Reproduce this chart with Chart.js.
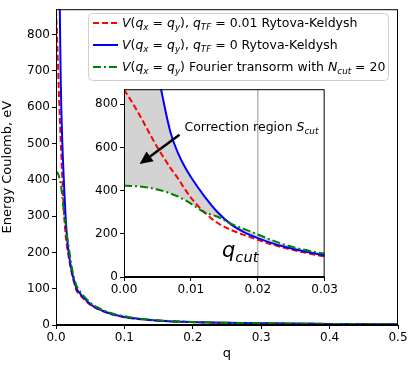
<!DOCTYPE html>
<html>
<head>
<meta charset="utf-8">
<script src="https://cdn.jsdelivr.net/npm/chart.js@4.4.0/dist/chart.umd.min.js"></script>
<style>
  body { margin: 0; background: #fff; }
  #wrap { position: relative; width: 415px; height: 366px; }
  #mainChart { position: absolute; left: 0; top: 0; }
  #insetChart { position: absolute; left: 84px; top: 80px; }
</style>
</head>
<body>
<div id="wrap">
  <canvas id="mainChart" width="415" height="366"></canvas>
  <canvas id="insetChart" width="256" height="220"></canvas>
</div>
<script>
// q values for the zoomed region (inset) and the tail of the main plot
const insetQ = [0, 0.001, 0.002, 0.003, 0.004, 0.005, 0.006, 0.007, 0.008, 0.009, 0.010,
                0.012, 0.014, 0.016, 0.018, 0.020, 0.022, 0.024, 0.026, 0.028, 0.030];
const tailQ = [0.035, 0.04, 0.05, 0.06, 0.07, 0.08, 0.09, 0.1, 0.12, 0.15, 0.2, 0.25, 0.3, 0.4, 0.5];

// V(q), q_TF = 0.01, Rytova-Keldysh
const redInset = [868, 820, 768, 712, 655, 600, 550, 502, 460, 412, 368,
                  300, 250, 218, 194, 172, 152, 135, 120, 107, 95];
const redTail = [83, 73, 56, 45, 37, 30, 25.5, 21.5, 16.5, 11.8, 7.9, 5.9, 4.4, 3, 2];

// V(q), q_TF = 0, Rytova-Keldysh (diverges at q -> 0, first points far off the top)
const blueInset = [20000, 5000, 2550, 1680, 1240, 970, 800, 665, 580, 515, 463,
                   375, 300, 244, 207, 180, 158, 140, 125, 112, 100];
const blueTail = [87, 76, 58, 46, 38, 31, 26, 22, 17, 12, 8, 6, 4.5, 3, 2];

// V(q), Fourier transform with N_cut = 20
const greenInset = [423, 422, 420, 417, 412, 405, 397, 386, 374, 358, 340,
                    300, 279, 247, 222, 197, 172, 150, 133, 119, 108];
const greenTail = [93, 81, 62, 49, 40, 33, 28, 24, 18, 13, 8.5, 6, 4.5, 2.8, 2];

const mainXTicks = [0, 0.1, 0.2, 0.3, 0.4, 0.5];
const mainYTicks = [0, 100, 200, 300, 400, 500, 600, 700, 800];
const insetXTicks = [0, 0.01, 0.02, 0.03];
const insetYTicks = [0, 200, 400, 600, 800];
const qCut = 0.02;

const FONT = '"DejaVu Sans", sans-serif';

function pts(xs, ys) {
    return xs.map((x, i) => ({ x: x, y: ys[i] }));
}

// draws a line of text made of normal / italic / subscript pieces
function drawRich(ctx, x, y, parts, size) {
    ctx.textBaseline = 'alphabetic';
    ctx.textAlign = 'left';
    parts.forEach(([txt, kind]) => {
        const sub = kind === 's';
        const fs = sub ? size * 0.7 : size;
        ctx.font = (kind === 'n' ? '' : 'italic ') + fs + 'px ' + FONT;
        ctx.fillText(txt, x, y + (sub ? size * 0.22 : 0));
        x += ctx.measureText(txt).width;
    });
    return x;
}

const legendItems = [
    { color: '#ff0000', dash: [6, 3], parts: [['V', 'i'], ['(', 'n'], ['q', 'i'], ['x', 's'], [' = ', 'n'], ['q', 'i'], ['y', 's'], ['), ', 'n'], ['q', 'i'], ['TF', 's'], [' = 0.01 Rytova-Keldysh', 'n']] },
    { color: '#0000ff', dash: [], parts: [['V', 'i'], ['(', 'n'], ['q', 'i'], ['x', 's'], [' = ', 'n'], ['q', 'i'], ['y', 's'], ['), ', 'n'], ['q', 'i'], ['TF', 's'], [' = 0 Rytova-Keldysh', 'n']] },
    { color: '#008000', dash: [8, 3, 2, 3], parts: [['V', 'i'], ['(', 'n'], ['q', 'i'], ['x', 's'], [' = ', 'n'], ['q', 'i'], ['y', 's'], [') Fourier transorm with ', 'n'], ['N', 'i'], ['cut', 's'], [' = 20', 'n']] }
];

const framePlugin = {
    id: 'frame',
    afterDatasetsDraw(chart, args, opts) {
        const { ctx, chartArea: a } = chart;
        ctx.save();
        ctx.strokeStyle = opts.color || '#000';
        ctx.lineWidth = 1;
        ctx.strokeRect(a.left + 0.5, a.top + 0.5, a.right - a.left - 1, a.bottom - a.top - 1);
        ctx.restore();
    }
};

const legendPlugin = {
    id: 'texLegend',
    afterDraw(chart) {
        const ctx = chart.ctx;
        ctx.save();
        const bx = 88, by = 13, bw = 300, bh = 67, r = 4;
        ctx.beginPath();
        ctx.roundRect(bx + 0.5, by + 0.5, bw, bh, r);
        ctx.fillStyle = 'rgba(255,255,255,0.8)';
        ctx.fill();
        ctx.strokeStyle = '#d0d0d0';
        ctx.lineWidth = 1;
        ctx.stroke();
        legendItems.forEach((it, i) => {
            const yy = 23 + i * 22;
            ctx.beginPath();
            ctx.setLineDash(it.dash);
            ctx.strokeStyle = it.color;
            ctx.lineWidth = 2;
            ctx.moveTo(93, yy);
            ctx.lineTo(118, yy);
            ctx.stroke();
            ctx.setLineDash([]);
            ctx.fillStyle = '#000';
            drawRich(ctx, 122, yy + 4, it.parts, 12.5);
        });
        ctx.restore();
    }
};

const insetDecor = {
    id: 'insetDecor',
    beforeDatasetsDraw(chart) {
        const { ctx, chartArea: a, scales } = chart;
        const x = scales.x.getPixelForValue(qCut);
        ctx.save();
        ctx.strokeStyle = '#b8b8b8';
        ctx.lineWidth = 1.5;
        ctx.beginPath();
        ctx.moveTo(x, a.top);
        ctx.lineTo(x, a.bottom);
        ctx.stroke();
        ctx.restore();
    },
    afterDraw(chart) {
        const { ctx, scales } = chart;
        const px = (q) => scales.x.getPixelForValue(q);
        const py = (v) => scales.y.getPixelForValue(v);
        ctx.save();
        ctx.fillStyle = '#000';
        drawRich(ctx, px(0.00904), py(675), [['Correction region ', 'n'], ['S', 'i'], ['cut', 's']], 12.5);
        drawRich(ctx, px(0.01465), py(91), [['q', 'i'], ['cut', 's']], 21);

        // arrow from text towards shaded region
        const x0 = px(0.0083), y0 = py(659), x1 = px(0.00233), y1 = py(523);
        const ang = Math.atan2(y1 - y0, x1 - x0);
        const hl = 13, hw = 6;
        const bxp = x1 - hl * Math.cos(ang), byp = y1 - hl * Math.sin(ang);
        ctx.strokeStyle = '#000';
        ctx.lineWidth = 2.5;
        ctx.beginPath();
        ctx.moveTo(x0, y0);
        ctx.lineTo(bxp, byp);
        ctx.stroke();
        ctx.beginPath();
        ctx.moveTo(x1, y1);
        ctx.lineTo(bxp + hw * Math.sin(ang), byp - hw * Math.cos(ang));
        ctx.lineTo(bxp - hw * Math.sin(ang), byp + hw * Math.cos(ang));
        ctx.closePath();
        ctx.fill();
        ctx.restore();
    }
};

function axis(min, max, ticks, fmt, extra) {
    return Object.assign({
        type: 'linear',
        min: min,
        max: max,
        afterBuildTicks: (s) => { s.ticks = ticks.map(v => ({ value: v })); },
        ticks: {
            color: '#000',
            font: { family: FONT, size: 12 },
            padding: 2,
            maxRotation: 0,
            callback: fmt
        },
        grid: { drawOnChartArea: false, color: '#000', tickLength: 4 },
        border: { color: '#000' }
    }, extra);
}

function lineSet(data, color, dash, order, extra) {
    return Object.assign({
        data: data,
        borderColor: color,
        borderDash: dash,
        borderWidth: 2,
        pointRadius: 0,
        cubicInterpolationMode: 'monotone',
        fill: false,
        order: order
    }, extra);
}

new Chart(document.getElementById('mainChart'), {
    type: 'line',
    data: {
        datasets: [
            lineSet(pts(insetQ.concat(tailQ), redInset.concat(redTail)), '#ff0000', [6, 3], 3),
            lineSet(pts(insetQ.concat(tailQ), blueInset.concat(blueTail)), '#0000ff', [], 2),
            lineSet(pts(insetQ.concat(tailQ), greenInset.concat(greenTail)), '#008000', [8, 3, 2, 3], 1)
        ]
    },
    options: {
        responsive: false,
        animation: false,
        devicePixelRatio: 1,
        layout: { padding: { left: 0, right: 17, top: 6, bottom: 0 } },
        plugins: { legend: { display: false }, tooltip: { enabled: false } },
        scales: {
            x: axis(0, 0.5, mainXTicks, v => v.toFixed(1), {
                afterFit: s => { s.height = 41; },
                title: { display: true, text: 'q', color: '#000', font: { family: FONT, size: 13 }, padding: { top: 0, bottom: 5 } }
            }),
            y: axis(0, 870, mainYTicks, v => String(v), {
                afterFit: s => { s.width = 56; },
                title: { display: true, text: 'Energy Coulomb, eV', color: '#000', font: { family: FONT, size: 13 }, padding: { top: 0, bottom: 0 } }
            })
        }
    },
    plugins: [framePlugin, legendPlugin]
});

new Chart(document.getElementById('insetChart'), {
    type: 'line',
    data: {
        datasets: [
            lineSet(pts(insetQ, redInset), '#ff0000', [6, 3], 3),
            lineSet(pts(insetQ, blueInset), '#0000ff', [], 2, {
                fill: { target: 2, above: '#d3d3d3', below: '#d3d3d3' }
            }),
            lineSet(pts(insetQ, greenInset), '#008000', [8, 3, 2, 3], 1)
        ]
    },
    options: {
        responsive: false,
        animation: false,
        devicePixelRatio: 1,
        layout: { padding: { left: 0, right: 10.5, top: 6, bottom: 0 } },
        plugins: {
            legend: { display: false },
            tooltip: { enabled: false },
            filler: { drawTime: 'beforeDatasetsDraw' }
        },
        scales: {
            x: axis(0, 0.03, insetXTicks, v => v.toFixed(2), { afterFit: s => { s.height = 23; } }),
            y: axis(0, 870, insetYTicks, v => String(v), { afterFit: s => { s.width = 40; } })
        }
    },
    plugins: [{
        id: 'insetBg',
        beforeDraw(chart) {
            const { ctx, chartArea: a } = chart;
            ctx.save();
            ctx.fillStyle = '#fff';
            ctx.fillRect(a.left, a.top, a.right - a.left, a.bottom - a.top);
            ctx.restore();
        }
    }, framePlugin, insetDecor]
});
</script>
</body>
</html>
